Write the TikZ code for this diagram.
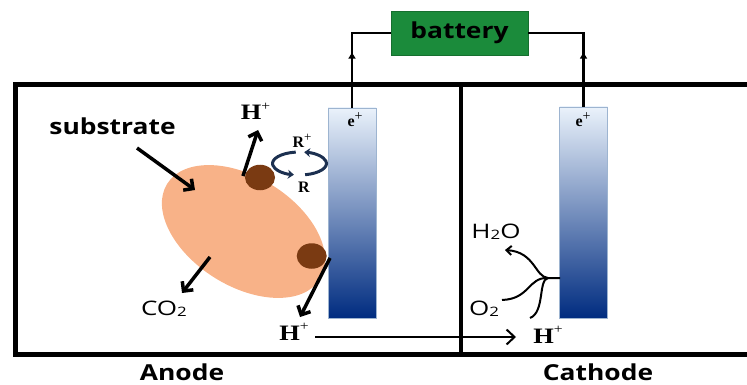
\documentclass[tikz,border=0pt]{standalone}
\usepackage{fontspec}
\usepackage{graphicx}
\setmainfont{Liberation Serif}
\newfontfamily\osans{Open Sans}
\usetikzlibrary{arrows.meta,shapes.geometric,decorations.markings}
\definecolor{peach}{HTML}{F8B288}
\definecolor{dotbrown}{HTML}{7A3A12}
\definecolor{cyclenavy}{HTML}{1C3050}
\definecolor{batgreen}{HTML}{1B8B3B}
\definecolor{eltop}{HTML}{EAF2FB}
\definecolor{elmid}{HTML}{6699D6}
\definecolor{elbot}{HTML}{002C80}
\definecolor{elborder}{HTML}{9DB4D0}
\newcommand{\hsc}[2][1.2]{\scalebox{#1}[1]{#2}}
\newcommand{\supplus}[1]{\raisebox{0.42em}{\mdseries\fontsize{#1}{#1}\selectfont +}}
\newcommand{\subtwo}{\raisebox{-1pt}{\fontsize{13}{13}\selectfont 2}}
\begin{document}
\begin{tikzpicture}[x=1pt,y=-1pt,
  lbl/.style={inner sep=0pt, anchor=base},
  sanslbl/.style={lbl, font=\osans\bfseries\fontsize{22}{24}\selectfont},
  chem/.style={lbl, font=\osans\fontsize{20}{22}\selectfont},
  ion/.style={lbl, font=\bfseries\fontsize{22}{24}\selectfont},
  smallion/.style={lbl, font=\bfseries\fontsize{16}{18}\selectfont},
  boxline/.style={line width=5pt, line join=miter},
  divline/.style={line width=4pt},
  electrode/.style={draw=elborder, line width=0.8pt, top color=eltop, middle color=elmid, bottom color=elbot, minimum width=48pt, inner sep=0pt},
  bat/.style={fill=batgreen, draw=batgreen!80!black, line width=0.5pt, minimum width=137pt, minimum height=44pt, inner sep=0pt, font=\osans\bfseries\fontsize{22}{24}\selectfont},
  wire/.style={line width=2.5pt},
  dotnode/.style={ellipse, fill=dotbrown, minimum width=30pt, minimum height=25.5pt, inner sep=0pt},
  fatarrow/.style={line width=3.5pt, -{Straight Barb[length=7pt,width=14pt]}},
  longarrow/.style={line width=2pt, -{Straight Barb[length=8pt,width=15pt]}},
  curvearrow/.style={line width=2pt},
  cyclearrow/.style={line width=3pt, draw=cyclenavy, -{Stealth[length=6pt,width=9pt]}}
]
\path[use as bounding box, clip] (0,0) rectangle (747,385);

% cell walls
\draw[boxline] (760,85) -- (15,85) -- (15,354) -- (760,354);
\draw[divline] (461,85) -- (461,354);

% substrate ellipse
\node[ellipse, fill=peach, minimum width=180pt, minimum height=109pt, rotate=-32, inner sep=0pt] (sub) at (243.5,231.5) {};

% electrodes
\node[electrode, minimum height=210pt] (la) at (352,213) {};
\node[electrode, minimum height=211pt] (ra) at (583.5,212.5) {};
\node[smallion] (ela) at (355,127) {e\supplus{14}};
\node[smallion] (era) at (583,127) {e\supplus{14}};

% battery and wires
\node[bat] (bat) at (459.5,33) {\hsc{battery}};
\draw[wire, postaction={decorate, decoration={markings, mark=at position 55pt with {\arrow{Triangle[length=6pt,width=7pt]}}}}] (la.north) |- (bat.west);
\draw[wire, postaction={decorate, decoration={markings, mark=at position 54pt with {\arrow{Triangle[length=6pt,width=7pt]}}}}] (ra.north) |- (bat.east);

% bacteria dots
\node[dotnode] (d1) at (260,177.5) {};
\node[dotnode] (d2) at (311.7,256) {};

% redox cycle
\coordinate (rc) at (299.5,163.5);
\draw[cyclearrow] ([shift={(262:27 and 11.5)}]rc) arc[start angle=262, end angle=102, x radius=27, y radius=11.5];
\draw[cyclearrow] ([shift={(78:27 and 11.5)}]rc) arc[start angle=78, end angle=-80, x radius=27, y radius=11.5];
\node[smallion] (rplus) at (302,148) {R\supplus{13}};
\node[smallion] (rmin) at (304,192) {R};

% arrows
\coordinate (s0) at (137,148); \coordinate (s1) at (195,190);
\coordinate (h0) at (243,176); \coordinate (h1) at (258,130);
\coordinate (c0) at (210,257); \coordinate (c1) at (182,293);
\coordinate (l0) at (330,258); \coordinate (l1) at (300,317);
\coordinate (m0) at (315,337); \coordinate (m1) at (516,337);
\draw[fatarrow] (s0) -- (s1);
\draw[fatarrow] (h0) -- (h1);
\draw[fatarrow] (c0) -- (c1);
\draw[fatarrow] (l0) -- (l1);
\draw[longarrow] (m0) -- (m1);

% cathode reaction
\coordinate (rj) at (560,278);
\coordinate (j) at (548,278);
\coordinate (wtip) at (505,250);
\coordinate (oend) at (502,300);
\coordinate (hend) at (530,318);
\draw[curvearrow, -{Straight Barb[length=5pt,width=9pt]}] (rj) -- (j) .. controls (535,277) and (535,252) .. (wtip);
\draw[curvearrow] (j) .. controls (528,277) and (530,299) .. (oend);
\draw[curvearrow] (j) .. controls (538,280) and (545,312) .. (hend);

% labels
\node[sanslbl] (lsub) at (112.5,135) {\hsc{substrate}};
\node[sanslbl] (lan) at (182,380.5) {\hsc{Anode}};
\node[sanslbl] (lca) at (598,380.5) {\hsc{Cathode}};
\node[ion] (hp1) at (255.5,120) {\hsc{H\supplus{13}}};
\node[ion] (hp2) at (294,340) {\hsc{H\supplus{13}}};
\node[ion] (hp3) at (548,343) {\hsc{H\supplus{13}}};
\node[chem] (co2) at (164,315) {\hsc[1.3]{CO\subtwo}};
\node[chem] (h2o) at (496,238) {\hsc[1.3]{H\subtwo O}};
\node[chem] (o2) at (484,315) {\hsc[1.3]{O\subtwo}};
\end{tikzpicture}
\end{document}
